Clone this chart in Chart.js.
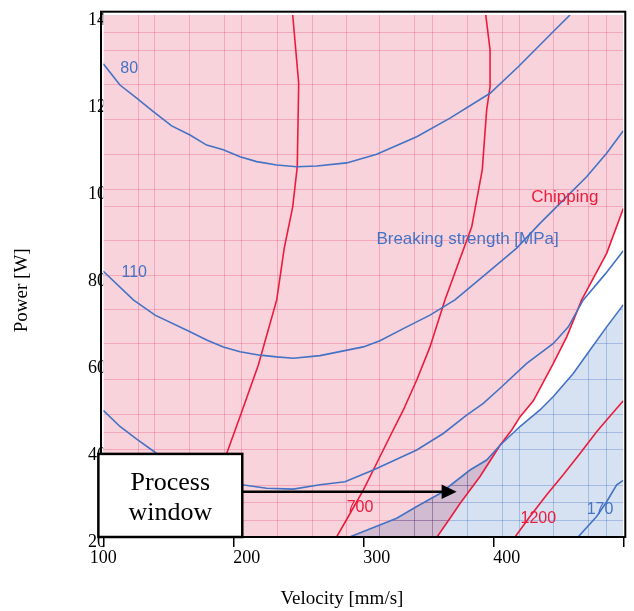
<!DOCTYPE html>
<html>
<head>
<meta charset="utf-8">
<script src="https://cdn.jsdelivr.net/npm/chart.js@4.4.1/dist/chart.umd.min.js"></script>
<style>
  html, body { margin: 0; padding: 0; background: #fff; }
  canvas { display: block; }
</style>
</head>
<body>
<canvas id="grafico" width="634" height="611"></canvas>
<script>
// Eixos
const velMin = 100, velMax = 500, velPasso = 100;
const potMin = 20, potMax = 140, potPasso = 20;

// Malha de fundo (valores onde passam as linhas finas)
const malhaVel = [126.5, 139.3, 166.2, 193.2, 205.9, 233.4, 260.3, 286.7, 312.3, 339.2, 352.6, 379.5, 406.5, 419.8, 446.2, 473.1, 486.5];
const malhaPot = [136.0, 132.0, 124.1, 116.1, 108.0, 99.9, 96.0, 88.3, 80.2, 72.4, 64.5, 56.3, 48.2, 44.2, 40.2, 32.0, 28.1, 23.9];

// Resistência à ruptura [MPa] - curvas de nível [velocidade, potência]
const rup80 = [[100, 128.8], [112.8, 123.9], [125.7, 120.9], [138.5, 117.8], [152.6, 114.5], [166.7, 112.4], [179.5, 110.1], [192.3, 109.0], [205.2, 107.4], [218.0, 106.3], [233.4, 105.5], [248.8, 105.1], [264.2, 105.3], [287.2, 106.0], [310.3, 108.0], [341.1, 112.0], [366.7, 116.3], [397.5, 122.0], [419.2, 128.1], [446.2, 136.2], [459.0, 140.0]];
const rup110 = [[100, 81.1], [123.1, 74.5], [139.8, 71.0], [166.7, 67.2], [179.5, 65.3], [192.3, 63.7], [205.2, 62.6], [220.5, 61.8], [233.4, 61.4], [246.2, 61.1], [266.7, 61.7], [300, 63.7], [312.8, 65.1], [333.4, 68.3], [351.3, 71.0], [370.5, 74.5], [394.9, 80.6], [418.0, 86.4], [435.9, 92.1], [451.3, 96.7], [471.8, 102.8], [487.2, 108.2], [500, 113.4]];
const rup140 = [[100, 49.1], [112.8, 45.4], [125.7, 42.5], [141.1, 39.2], [159, 36.3], [182, 33.6], [206.5, 32.0], [225.7, 31.2], [246.2, 31.0], [266.7, 32.0], [285.9, 32.7], [307.7, 35.4], [324.4, 37.7], [341.1, 40.0], [361.5, 43.8], [379.5, 48.0], [392.3, 50.7], [405.2, 54.2], [425.7, 59.9], [446.2, 64.5], [457.7, 68.3], [469.2, 74.5], [486.5, 80.6], [500, 85.8]];
const rupLimite = [[289.5, 20], [325.7, 24.3], [341.1, 27.0], [359.0, 30.0], [382.1, 35.4], [394.9, 37.7], [405.2, 41.1], [420.5, 45.4], [435.9, 49.2], [446.2, 52.3], [461.5, 57.6], [474.4, 63.0], [487.2, 68.3], [498.8, 72.9], [500, 73.4]];
const rup170 = [[465.2, 20], [479.5, 24.7], [487.2, 28.1], [494.9, 32.0], [500, 33.0]];

// Lascamento (chipping) - curvas de nível
const lasca1 = [[172, 20], [194.9, 39.2], [205.2, 47.7], [219.2, 59.5], [233.4, 74.5], [239.2, 86.4], [245.7, 95.9], [249.2, 105.1], [250.3, 124.3], [245.7, 140]];
const lasca700 = [[279.5, 20], [289.8, 25.4], [300, 30.8], [307.7, 35.4], [320.5, 43.1], [330.8, 49.2], [341.1, 56.1], [351.3, 63.7], [362.8, 74.5], [383.4, 91.3], [391.5, 104.4], [394.9, 118.2], [397.5, 123.5], [397.5, 132.0], [394.2, 140.0]];
const lascaLimite = [[356.7, 20], [366.7, 24.3], [374.4, 27.7], [382.1, 30.8], [389.8, 33.9], [398.8, 38.1], [405.2, 41.1], [414.2, 44.6], [420.5, 47.6], [430.8, 51.3], [446.2, 59.9], [456.5, 66.0], [468.0, 74.5], [487.2, 85.2], [500, 95.5]];
const lasca1200 = [[416.7, 20], [428.2, 24.7], [441.1, 29.7], [453.8, 34.3], [466.7, 39.2], [479.5, 44.2], [487.2, 46.9], [500, 51.3]];

// Rótulos [texto, velocidade, potência]
const rotulosAzuis = [['80', 119.9, 127.6], ['110', 123.8, 80.8], ['170', 482.1, 26.2]];
const rotulosVermelhos = [['700', 297.5, 26.8], ['1200', 434.6, 24.3]];
const legendaAzul = ['Breaking strength [MPa]', 380.2, 88.4];
const legendaVermelha = ['Chipping', 455.0, 98.2];

// Janela de processo
const janelaVel = [96.2, 206.9];
const janelaPot = [20, 39.1];
const janelaTexto = [['Process', 30.8], ['window', 23.9]];
const setaPot = 30.4, setaVel = 371.8;

// Cores
const azul = '#4472c4', vermelho = '#ec1b3b';
const rosa = '#f9d3dc', azulClaro = '#d6e2f2';

const pontos = arr => arr.map(p => ({ x: p[0], y: p[1] }));

function linha(dados, cor) {
    return { data: pontos(dados), borderColor: cor, borderWidth: 1.6, pointRadius: 0, fill: false, tension: 0, order: 1 };
}

// Malha desenhada dentro de cada região preenchida
const malhaPlugin = {
    id: 'malha',
    afterDatasetDraw(chart, args) {
        const ds = chart.data.datasets[args.index];
        if (!ds.regiao) return;
        const { ctx, chartArea: a, scales } = chart;
        const pts = args.meta.data;
        ctx.save();
        ctx.beginPath();
        ctx.rect(a.left, a.top, a.right - a.left, a.bottom - a.top);
        ctx.clip();
        ctx.beginPath();
        pts.forEach((p, i) => i ? ctx.lineTo(p.x, p.y) : ctx.moveTo(p.x, p.y));
        if (ds.regiao === 'acima') { ctx.lineTo(a.right, a.top); ctx.lineTo(a.left, a.top); }
        else { ctx.lineTo(a.right, a.bottom); }
        ctx.closePath();
        ctx.clip();
        ctx.strokeStyle = ds.corMalha;
        ctx.lineWidth = 1;
        ctx.beginPath();
        malhaVel.forEach(v => {
            const x = Math.round(scales.x.getPixelForValue(v)) + 0.5;
            ctx.moveTo(x, a.top); ctx.lineTo(x, a.bottom);
        });
        malhaPot.forEach(v => {
            const y = Math.round(scales.y.getPixelForValue(v)) + 0.5;
            ctx.moveTo(a.left, y); ctx.lineTo(a.right, y);
        });
        ctx.stroke();
        ctx.restore();
        // a região azul é multiplicada por cima da rosa
        ctx.globalCompositeOperation = ds.regiao === 'acima' ? 'multiply' : 'source-over';
    }
};

// Textos, moldura, caixa e seta
const anotacoesPlugin = {
    id: 'anotacoes',
    beforeDraw(chart) {
        // primeiro rótulo do eixo x centrado no traço
        const itens = chart.scales.x.getLabelItems();
        if (itens.length) itens[0].options.textAlign = 'center';
    },
    afterDatasetsDraw(chart) {
        const { ctx, scales: { x, y } } = chart;
        ctx.save();
        ctx.textAlign = 'center';
        ctx.textBaseline = 'middle';
        ctx.font = '16px "Liberation Sans", Arial, sans-serif';
        ctx.fillStyle = azul;
        rotulosAzuis.forEach(r => ctx.fillText(r[0], x.getPixelForValue(r[1]), y.getPixelForValue(r[2])));
        ctx.fillStyle = vermelho;
        rotulosVermelhos.forEach(r => ctx.fillText(r[0], x.getPixelForValue(r[1]), y.getPixelForValue(r[2])));
        ctx.font = '17px "Liberation Sans", Arial, sans-serif';
        ctx.fillStyle = azul;
        ctx.fillText(legendaAzul[0], x.getPixelForValue(legendaAzul[1]), y.getPixelForValue(legendaAzul[2]));
        ctx.fillStyle = vermelho;
        ctx.fillText(legendaVermelha[0], x.getPixelForValue(legendaVermelha[1]), y.getPixelForValue(legendaVermelha[2]));
        ctx.restore();
    },
    afterDraw(chart) {
        const { ctx, chartArea: a, scales: { x, y } } = chart;
        ctx.save();
        // moldura
        ctx.strokeStyle = '#000';
        ctx.lineWidth = 2;
        ctx.strokeRect(a.left - 2.3, a.top - 3.3, a.right - a.left + 4.3, a.bottom - a.top + 3.3);

        // seta
        const xs = x.getPixelForValue(janelaVel[1]);
        const xt = x.getPixelForValue(setaVel);
        const ys = y.getPixelForValue(setaPot);
        ctx.lineWidth = 2.5;
        ctx.beginPath();
        ctx.moveTo(xs, ys); ctx.lineTo(xt - 14, ys);
        ctx.stroke();
        ctx.fillStyle = '#000';
        ctx.beginPath();
        ctx.moveTo(xt, ys); ctx.lineTo(xt - 15, ys - 7.2); ctx.lineTo(xt - 15, ys + 7.2);
        ctx.closePath();
        ctx.fill();

        // caixa "Process window"
        const x0 = x.getPixelForValue(janelaVel[0]), x1 = x.getPixelForValue(janelaVel[1]);
        const y0 = y.getPixelForValue(janelaPot[1]), y1 = y.getPixelForValue(janelaPot[0]);
        ctx.fillStyle = '#fff';
        ctx.fillRect(x0, y0, x1 - x0, y1 - y0);
        ctx.lineWidth = 2.5;
        ctx.strokeRect(x0, y0, x1 - x0, y1 - y0);
        ctx.fillStyle = '#000';
        ctx.font = '26px "Liberation Serif", "Times New Roman", serif';
        ctx.textAlign = 'center';
        ctx.textBaseline = 'alphabetic';
        janelaTexto.forEach(t => ctx.fillText(t[0], (x0 + x1) / 2, y.getPixelForValue(t[1])));
        ctx.restore();
    }
};

Chart.defaults.font.family = '"Liberation Serif", "Times New Roman", serif';
Chart.defaults.color = '#000';

new Chart(document.getElementById('grafico'), {
    type: 'line',
    data: {
        datasets: [
            {
                data: [{ x: velMin, y: potMin }, ...pontos(lascaLimite)],
                fill: 'end', backgroundColor: rosa, borderColor: 'rgba(0,0,0,0)', borderWidth: 0,
                pointRadius: 0, tension: 0, order: 10,
                regiao: 'acima', corMalha: 'rgba(228,80,120,0.33)'
            },
            {
                data: pontos(rupLimite),
                fill: 'start', backgroundColor: azulClaro, borderColor: 'rgba(0,0,0,0)', borderWidth: 0,
                pointRadius: 0, tension: 0, order: 9,
                regiao: 'abaixo', corMalha: 'rgb(196,212,240)'
            },
            linha(rup80, azul),
            linha(rup110, azul),
            linha(rup140, azul),
            linha(rupLimite, azul),
            linha(rup170, azul),
            linha(lasca1, vermelho),
            linha(lasca700, vermelho),
            linha(lascaLimite, vermelho),
            linha(lasca1200, vermelho)
        ]
    },
    options: {
        responsive: false,
        animation: false,
        layout: { padding: { top: 15, right: 10.7, bottom: 0, left: 0 } },
        plugins: { legend: { display: false }, tooltip: { enabled: false } },
        scales: {
            x: {
                type: 'linear', min: velMin, max: velMax,
                ticks: {
                    stepSize: velPasso, align: 'start', padding: 0,
                    font: { size: 18 },
                    callback: v => v === velMax ? '' : v
                },
                grid: { display: true, drawOnChartArea: false, drawTicks: true, tickLength: 10, color: '#000', lineWidth: 1.5 },
                border: { display: false },
                title: { display: true, text: 'Velocity [mm/s]         ', font: { size: 19 }, padding: { top: 0, bottom: 1 } },
                afterFit: s => { s.height = 74; }
            },
            y: {
                type: 'linear', min: potMin, max: potMax, weight: 0,
                ticks: { stepSize: potPasso, crossAlign: 'far', labelOffset: 5, font: { size: 18 } },
                grid: { display: false },
                border: { display: false },
                afterFit: s => { s.width = 15.3; }
            },
            yTitulo: {
                type: 'linear', position: 'left', min: potMin, max: potMax, weight: 1,
                ticks: { display: false },
                grid: { display: false },
                border: { display: false },
                title: { display: true, text: 'Power [W]      ', font: { size: 19 }, padding: { top: 11, bottom: 0 } },
                afterFit: s => { s.width = 88; }
            }
        }
    },
    plugins: [malhaPlugin, anotacoesPlugin]
});
</script>
</body>
</html>
